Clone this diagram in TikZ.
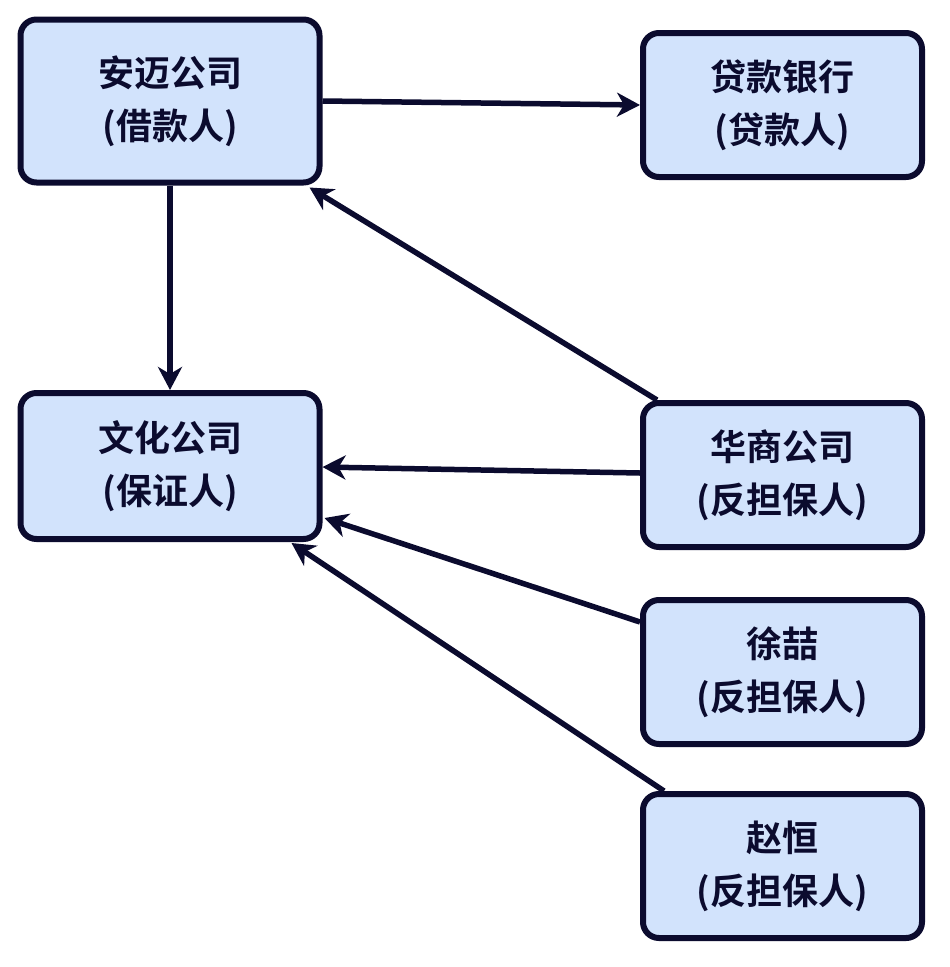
\documentclass[tikz,border=0pt]{standalone}
\usepackage{fontspec}
\setmainfont{Noto Sans CJK SC}[BoldFont={Noto Sans CJK SC Bold}]
\usepackage{xcolor}
\usetikzlibrary{positioning,arrows.meta}
\definecolor{boxfill}{HTML}{D2E3FC}
\definecolor{navy}{HTML}{0B0B2E}

\begin{document}
\begin{tikzpicture}[x=1pt, y=-1pt,
  party/.style={draw=navy, fill=boxfill, line width=6pt, rounded corners=16pt,
    align=center, text=navy, minimum width=279pt, minimum height=144pt,
    font=\fontsize{36}{53}\selectfont\bfseries},
  link/.style={draw=navy, line width=5.5pt, -{Stealth[length=23pt,width=24pt,inset=7pt]}}]
\useasboundingbox (0,0) rectangle (950,967);

\node[party, minimum width=299pt, minimum height=163pt] (amai) at (170,101) {安迈公司\\(借款人)};
\node[party] (bank) [right=317.5pt of amai, yshift=-4pt] {贷款银行\\(贷款人)};
\node[party, minimum width=299pt, minimum height=146pt] (wenhua) [below=204.5pt of amai] {文化公司\\(保证人)};
\node[party] (huashang) [below=220pt of bank] {华商公司\\(反担保人)};
\node[party] (xuzhe) [below=47pt of huashang] {徐喆\\(反担保人)};
\node[party] (zhaoheng) [below=44pt of xuzhe] {赵恒\\(反担保人)};

\draw[link] (amai.east) -- (bank.west);
\draw[link] (amai.south) -- (wenhua.north);
\draw[link] ([xshift=17pt]huashang.north west) -- ([xshift=-13pt, yshift=-2pt]amai.south east);
\draw[link] ([yshift=2pt]huashang.west) -- ([yshift=-1pt]wenhua.east);
\draw[link] ([yshift=-25pt]xuzhe.north west) -- ([xshift=2pt, yshift=24pt]wenhua.south east);
\draw[link] ([xshift=24pt]zhaoheng.north west) -- ([xshift=-31pt, yshift=-1pt]wenhua.south east);
\end{tikzpicture}
\end{document}
